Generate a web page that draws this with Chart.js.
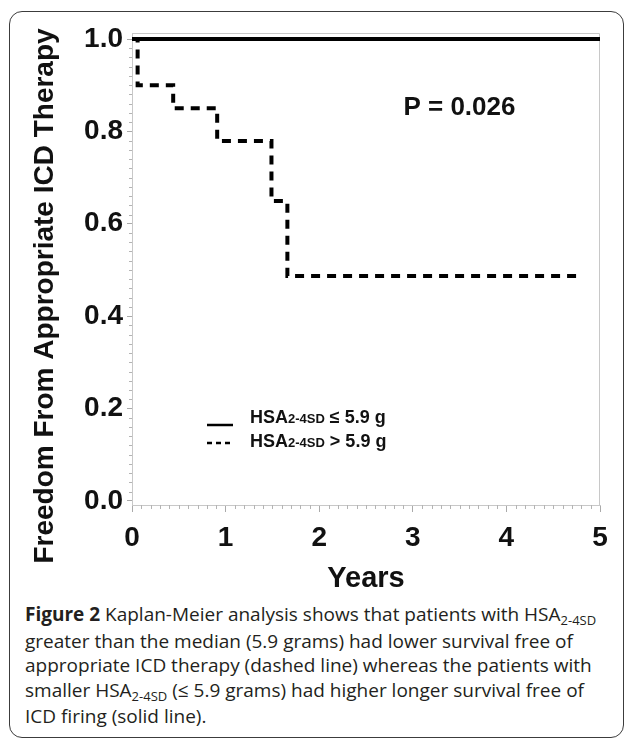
<!DOCTYPE html>
<html>
<head>
<meta charset="utf-8">
<script src="https://cdn.jsdelivr.net/npm/chart.js@4.4.1/dist/chart.umd.min.js"></script>
<style>
  html, body { margin: 0; padding: 0; background: #fff; }
  body { width: 627px; height: 739px; position: relative; overflow: hidden; }
  #frame { position: absolute; left: 9px; top: 11px; width: 615px; height: 727px; border: 1.5px solid #3c3c3c; border-radius: 13px; box-sizing: border-box; }
  #wrap { position: absolute; left: 0; top: 0; width: 627px; height: 600px; }
  #caption { position: absolute; left: 25px; top: 602px; font-family: "Open Sans", sans-serif; font-size: 19px; line-height: 24.5px; color: #231f20; white-space: nowrap; }
  #caption b { font-weight: 700; }
  #caption sub { font-size: 13px; vertical-align: baseline; position: relative; top: 4px; }
</style>
</head>
<body>
<div id="frame"></div>
<div id="wrap"><canvas id="km" width="627" height="600"></canvas></div>
<div id="caption"><b>Figure 2</b> Kaplan-Meier analysis shows that patients with HSA<sub>2-4SD</sub><br>greater than the median (5.9 grams) had lower survival free of<br>appropriate ICD therapy (dashed line) whereas the patients with<br>smaller HSA<sub>2-4SD</sub> (&le; 5.9 grams) had higher longer survival free of<br>ICD firing (solid line).</div>
<script>
// tick labels
const xTicks = [0, 1, 2, 3, 4, 5]
const yTicks = [0.0, 0.2, 0.4, 0.6, 0.8, 1.0]

// survival curves (time in years, freedom from therapy)
const lowTime = [0, 5]
const lowSurv = [1.0, 1.0]
const highTime = [0, 0.06, 0.44, 0.91, 1.49, 1.66, 4.8]
const highSurv = [1.0, 0.90, 0.85, 0.779, 0.649, 0.487, 0.487]

// legend / annotation text
const groupName = 'HSA'
const groupSub = '2-4SD'
const groupCond = ['\u2264 5.9 g', '> 5.9 g']
const pText = 'P = 0.026'
const yTitle = 'Freedom From Appropriate ICD Therapy'
const xTitle = 'Years'

const FONT = '"Liberation Sans", Arial, sans-serif'
const INK = '#111'

const toPoints = (xs, ys) => xs.map((x, i) => ({ x: x, y: ys[i] }))

const extras = {
    id: 'extras',
    beforeDatasetsDraw(chart) {
        const ctx = chart.ctx
        const a = chart.chartArea
        const xs = chart.scales.x
        const ys = chart.scales.y
        ctx.save()
        // top and right frame of the plot
        ctx.strokeStyle = '#c8c8c8'
        ctx.lineWidth = 1
        ctx.beginPath()
        ctx.moveTo(a.left, a.top + 0.5)
        ctx.lineTo(a.right - 0.5, a.top + 0.5)
        ctx.lineTo(a.right - 0.5, a.bottom)
        ctx.stroke()
        // minor ticks
        ctx.strokeStyle = '#b4b4b4'
        ctx.beginPath()
        for (let k = 1; k < 50; k++) {
            if (k % 10 === 0) continue
            const y = Math.round(ys.getPixelForValue(k * 0.02)) + 0.5
            ctx.moveTo(a.left - 3, y)
            ctx.lineTo(a.left, y)
        }
        for (let k = 1; k < 50; k++) {
            if (k % 10 === 0) continue
            const x = Math.round(xs.getPixelForValue(k * 0.1)) + 0.5
            ctx.moveTo(x, a.bottom)
            ctx.lineTo(x, a.bottom + 4)
        }
        ctx.stroke()
        ctx.restore()
    },
    afterDraw(chart) {
        const ctx = chart.ctx
        const a = chart.chartArea
        const xs = chart.scales.x
        const ys = chart.scales.y
        ctx.save()
        ctx.fillStyle = INK

        // y axis title
        ctx.save()
        ctx.translate(45, 296)
        ctx.rotate(-Math.PI / 2)
        ctx.textAlign = 'center'
        ctx.textBaseline = 'middle'
        ctx.font = 'bold 28px ' + FONT
        ctx.fillText(yTitle, 0, 0)
        ctx.restore()

        // p value
        ctx.textAlign = 'left'
        ctx.textBaseline = 'alphabetic'
        ctx.font = 'bold 26px ' + FONT
        ctx.fillText(pText, xs.getPixelForValue(2.9), ys.getPixelForValue(0.835))

        // legend
        chart.data.datasets.forEach((ds, i) => {
            const base = a.top + 390 + i * 24
            ctx.strokeStyle = ds.borderColor
            ctx.lineWidth = 2.5
            ctx.setLineDash(ds.borderDash && ds.borderDash.length ? [5, 4] : [])
            ctx.beginPath()
            ctx.moveTo(a.left + 75, base + (i === 0 ? 2 : -4))
            ctx.lineTo(a.left + 101, base + (i === 0 ? 2 : -4))
            ctx.stroke()
            ctx.setLineDash([])
            let x = a.left + 118
            ctx.font = 'bold 18px ' + FONT
            ctx.fillText(groupName, x, base)
            x += ctx.measureText(groupName).width
            ctx.font = 'bold 13px ' + FONT
            ctx.fillText(groupSub, x, base)
            x += ctx.measureText(groupSub).width
            ctx.font = 'bold 18px ' + FONT
            ctx.fillText(' ' + groupCond[i], x, base)
        })
        ctx.restore()
    }
}

const chart = new Chart(document.getElementById('km'), {
    type: 'line',
    data: {
        datasets: [{
            label: groupName + groupSub + ' ' + groupCond[0],
            data: toPoints(lowTime, lowSurv),
            borderColor: '#000',
            borderWidth: 4,
            borderDash: [],
            stepped: 'before',
            pointRadius: 0
        }, {
            label: groupName + groupSub + ' ' + groupCond[1],
            data: toPoints(highTime, highSurv),
            borderColor: '#000',
            borderWidth: 4,
            borderDash: [9, 7],
            stepped: 'before',
            pointRadius: 0
        }]
    },
    options: {
        responsive: false,
        animation: false,
        layout: { padding: { top: 33, right: 27, left: 0, bottom: 0 } },
        plugins: { legend: { display: false }, tooltip: { enabled: false } },
        scales: {
            x: {
                type: 'linear',
                min: 0,
                max: 5,
                afterBuildTicks: s => { s.ticks = xTicks.map(v => ({ value: v })) },
                afterFit: s => { s.height = 95 },
                ticks: { font: { family: FONT, size: 28, weight: 'bold' }, color: INK, padding: 9, maxRotation: 0, callback: v => String(v) },
                grid: { drawOnChartArea: false, tickLength: 7, tickColor: '#aaa' },
                border: { color: '#c8c8c8' },
                title: { display: true, text: xTitle, color: INK, font: { family: FONT, size: 29, weight: 'bold', lineHeight: 1 }, padding: { top: 0, bottom: 7 } }
            },
            y: {
                type: 'linear',
                min: -0.009,
                max: 1.013,
                afterBuildTicks: s => { s.ticks = yTicks.map(v => ({ value: v })) },
                afterFit: s => { s.width = 132 },
                ticks: { font: { family: FONT, size: 28, weight: 'bold' }, color: INK, padding: 4, callback: v => v.toFixed(1) },
                grid: { drawOnChartArea: false, tickLength: 5, tickColor: '#aaa' },
                border: { color: '#c8c8c8' }
            }
        }
    },
    plugins: [extras]
})
</script>
</body>
</html>
